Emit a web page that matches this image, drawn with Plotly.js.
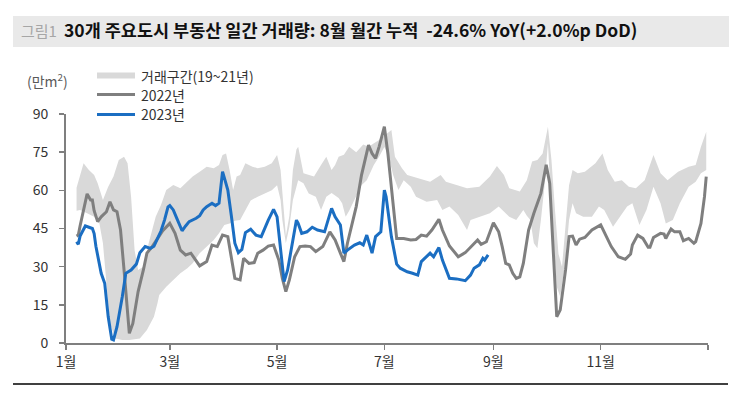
<!DOCTYPE html>
<html>
<head>
<meta charset="utf-8">
<script src="https://cdn.plot.ly/plotly-3.0.1.min.js"></script>
<style>html,body{margin:0;padding:0;background:#fff;}#chart{width:756px;height:393px;}</style>
</head>
<body>
<div id="chart"></div>
<script>
// ---- data (x = day of year, 0 = Jan 1) ----
const bandLowerDays = [6,8,12,16,19,21,23,25,28,32,36,42,46,48,50,52,53,57,61,65,69,72,76,80,84,87,90,93,96,99,102,105,109,113,117,120,122,123,125,127,129,132,135,138,142,145,148,151,155,157,159,161,164,168,171,175,178,181,183,186,189,192,196,199,205,211,214,218,223,228,230,235,241,246,252,256,260,262,264,266,268,270,272,274,276,279,281,284,286,288,290,294,299,303,306,311,315,319,322,326,330,334,338,341,345,349,354,358,361,364];
const bandLower = [52,52.3,51,49.6,47,39.2,23.5,7.7,1.8,1.2,1.2,1.8,5.1,7.7,10.3,15.6,18.9,22.1,24.8,27.4,29.4,31.3,35.3,37.9,40.5,43.1,46.4,47,48,48.3,52,56,57.5,58.8,60,62,56.2,48.3,39.2,45.7,56.2,64,62.8,58.8,57.5,52.3,57.5,59,57,54.9,49.6,52,56.2,62,64,70,73.2,77,74.5,66,60.1,64,61.4,57.5,55.5,56.2,52.3,53.6,50.3,44.4,48.3,49.6,51,53.6,49.6,48.3,52.3,50,48.3,39.2,37.2,48.3,61.4,78.5,52.3,22.1,18.2,32.6,48.3,54.9,51,49.6,49.6,53.6,52.3,45.7,49.6,53.6,54.9,46.4,52.3,61.4,54.9,47,48.3,54.9,61.4,63.4,66.7,68];
const bandUpperDays = [6,8,10,13,16,18,21,24,27,30,33,35,37,39,41,44,47,51,54,57,61,65,69,72,76,80,84,87,89,91,93,95,97,99,102,106,109,113,117,120,122,123,124,125,127,129,131,132,135,138,141,145,148,151,153,155,158,161,165,169,172,178,180,185,187,191,194,197,203,207,213,216,222,228,235,241,245,249,252,258,262,265,268,271,274,276,278,280,282,284,286,288,291,295,301,305,308,312,316,320,324,329,334,338,342,348,354,358,361,364];
const bandUpper = [61,66,70.6,68,66,62.8,56.2,61.4,65.4,71.9,73.2,70.6,57.5,36.5,28.7,30,39.2,49.6,54.2,60.1,62.1,60.8,63.4,65.4,67.3,69.3,68.7,70,73.9,74.5,68,60.1,65.4,66,70.6,69.3,68.7,69.3,70.6,73.9,68,58,50,42,50,68,76,77.1,66.7,66,65.4,70,73.2,68,70,73.2,74,77.1,75,78,77.1,79.8,81,83.7,73.2,68.7,66,65.4,64,63.4,66,63.4,62.1,60.8,61.4,65.4,69.6,66,60.8,59.5,64,71.3,71.9,74.5,85,71.9,52.3,35,30,45,62,68,66.7,67.3,70.6,74.5,68,63.4,64,61.4,60.8,64,73.9,66.7,64,67.3,69.3,70,77.1,83];
const y2022Days = [6,7,8,10,12,14,15,16,18,20,23,25,27,29,31,33,35,36,38,41,44,46,49,52,55,59,62,65,68,71,76,80,83,86,89,92,94,96,99,101,104,107,109,112,115,118,121,123,125,127,130,133,136,139,142,146,150,153,156,158,160,162,165,168,170,172,174,176,178,181,183,186,188,192,196,199,202,205,208,212,214,218,223,227,231,234,236,239,243,246,248,250,252,254,256,258,260,263,266,268,270,273,275,277,279,281,284,286,288,290,292,295,299,304,306,310,314,318,321,322,325,328,331,332,334,338,340,341,342,344,346,349,351,354,357,358,361,363,364];
const y2022 = [42,42.4,46,52.3,58.6,56.2,56.2,52,47.7,49.6,51.6,55.5,52.3,51.6,44.4,28.7,13,3.8,7.7,20.2,28.7,35.3,37.9,41.1,44.1,47,43.1,36.5,34.6,35.3,30.3,32,38.5,37.9,42.4,41.8,32.6,25.4,24.8,33.3,31.3,31.6,35.3,36.5,38.1,38.5,32.6,25.4,20.2,24.8,33.9,37.9,38.1,37.9,35.9,37.9,43.7,40.5,35.3,32,39.2,45,53.6,66,71.9,77.8,74.5,72.6,77.1,85,74.5,54.9,41.1,41.1,40.5,40.7,42.4,42,44.4,48.6,44.4,38.1,33.9,35.5,38.5,40.5,38.8,39.8,47.3,43.7,37.9,31.3,30.7,27.4,25.4,26,31.3,44.4,51,54.9,58.8,70,62.8,36.5,10.3,13,28.7,41.8,42,38.5,40.8,41.5,44.4,46.4,43.7,37.9,33.9,32.9,35,38.5,42.4,41.1,37.6,37.6,41.5,43.1,42.8,41.1,42.4,44.8,43.7,43.7,40.2,41.1,39.2,39.8,47,57.5,65.4];
const y2023Days = [6,7,8,11,13,15,16,17,20,22,24,26,27,29,32,34,37,40,42,45,48,50,52,54,56,58,59,61,63,66,68,70,74,76,78,80,83,85,87,89,90,92,94,96,98,100,102,105,108,111,115,118,120,122,124,126,129,131,132,134,137,140,143,147,151,153,156,158,160,164,167,169,171,174,176,179,181,182,185,188,190,194,197,200,202,205,207,209,212,214,218,222,227,230,232,235,237,238,240];
const y2023 = [39.8,38.8,42,46,45.5,45,43,38,27.4,23.5,10.3,1.5,1.2,6.4,18.2,27.4,28.7,31,35.5,37.9,37.2,38,41,44,48.3,53.5,54,52.3,49,44.1,46,47.7,49,50,52.3,53.6,54.9,54,55,67.3,65,60.1,50,39.2,35.5,36.8,43.4,44.7,42.4,41.8,48.3,52.5,49.6,35.3,24.1,28.7,40.5,48.3,47,43.1,43.7,45.5,44.4,43.7,52.9,49.6,46.4,35.3,36.5,38.5,39.4,38.5,42.4,35.3,41.8,43.7,60.1,57.5,41.8,31,29.4,28,27.4,26.7,32,33.9,35.3,33.9,37.5,32.6,25.4,25.2,24.5,26.7,29.4,30.7,33.3,32.6,34.6];

const tickDays = [0,59,120,181,243,304];
const tickLabels = ['1월','3월','5월','7월','9월','11월'];
const endTickDay = 365;
const yTicks = [0,15,30,45,60,75,90];
const names = ['거래구간(19~21년)','2022년','2023년'];
const titleText = '30개 주요도시 부동산 일간 거래량: 8월 월간 누적&nbsp; -24.6% YoY(+2.0%p DoD)';

// ---- helpers ----
const BASE = Date.UTC(2023,0,1);
const toDate = d => new Date(BASE + d*86400000).toISOString().slice(0,10);
const FONT = '"Noto Sans CJK KR", "Noto Sans", sans-serif';

// pixel -> paper conversion for decoration placement
const L = 66, R = 708, T = 114, B = 343;
const px = x => (x - L) / (R - L);
const py = y => (B - y) / (B - T);

const traces = [
  {x: bandLowerDays.map(toDate), y: bandLower, type:'scatter', mode:'lines',
   line:{width:0, color:'rgba(0,0,0,0)'}, hoverinfo:'skip', showlegend:false},
  {x: bandUpperDays.map(toDate), y: bandUpper, type:'scatter', mode:'lines',
   fill:'tonexty', fillcolor:'#d9d9d9', line:{width:0, color:'#d9d9d9'}, name:names[0], showlegend:false},
  {x: y2022Days.map(toDate), y: y2022, type:'scatter', mode:'lines',
   line:{color:'#7f7f7f', width:3}, name:names[1], showlegend:false},
  {x: y2023Days.map(toDate), y: y2023, type:'scatter', mode:'lines',
   line:{color:'#1b6ec2', width:3}, name:names[2], showlegend:false}
];

const shapes = [
  // title bar
  {type:'rect', xref:'paper', yref:'paper', x0:px(13), x1:px(729), y0:py(47), y1:py(16),
   fillcolor:'#e9e9e9', line:{width:0}, layer:'below'},
  // bottom rule
  {type:'line', xref:'paper', yref:'paper', x0:px(13), x1:px(728), y0:py(384), y1:py(384),
   line:{color:'#000', width:1.5}},
  // legend samples
  {type:'rect', xref:'paper', yref:'paper', x0:px(97), x1:px(135), y0:py(78.5), y1:py(72.5),
   fillcolor:'#d9d9d9', line:{width:0}},
  {type:'line', xref:'paper', yref:'paper', x0:px(97), x1:px(135), y0:py(94.5), y1:py(94.5),
   line:{color:'#7f7f7f', width:3}},
  {type:'line', xref:'paper', yref:'paper', x0:px(97), x1:px(135), y0:py(114.5), y1:py(114.5),
   line:{color:'#1b6ec2', width:3}}
];

const ann = (text, x, y, opts={}) => Object.assign({text, xref:'paper', yref:'paper', x:px(x), y:py(y),
  xanchor:'left', yanchor:'middle', showarrow:false, font:{family:FONT, size:14, color:'#333'}}, opts);

const annotations = [
  ann('그림1', 19, 31, {font:{family:FONT, size:15, color:'#a6a6a6'}}),
  ann(names[0], 139, 75.5),
  ann(names[1], 139, 94.5),
  ann(names[2], 139, 114.5),
  ann('(만m<sup>2</sup>)', 47, 80, {xanchor:'center', font:{family:FONT, size:14, color:'#595959'}})
];

const layout = {
  width:756, height:393,
  margin:{l:L, r:756-R, t:T, b:393-B},
  paper_bgcolor:'#fff', plot_bgcolor:'#fff',
  font:{family:FONT, size:14, color:'#333'},
  title:{text:'<b>'+titleText+'</b>', x:64/756, xref:'container', xanchor:'left',
         y:1-31/393, yref:'container', yanchor:'middle',
         font:{family:FONT, size:17.5, color:'#111'}},
  xaxis:{type:'date', range:[toDate(0), toDate(365)],
         tickvals:tickDays.map(toDate), ticktext:tickLabels, tickmode:'array',
         ticks:'outside', ticklen:5, tickwidth:1.5, tickcolor:'#7f7f7f',
         minor:{tickmode:'array', tickvals:[toDate(endTickDay)], ticks:'outside', ticklen:5, tickwidth:1.5, tickcolor:'#7f7f7f', showgrid:false},
         showline:true, linecolor:'#7f7f7f', linewidth:2, showgrid:false, zeroline:false,
         tickfont:{family:FONT, size:14, color:'#333'}, fixedrange:true},
  yaxis:{range:[0,90], tickvals:yTicks, tickmode:'array',
         ticks:'outside', ticklen:5, tickwidth:1.5, tickcolor:'#7f7f7f',
         showline:true, linecolor:'#7f7f7f', linewidth:2, showgrid:false, zeroline:false,
         ticklabelstandoff:8,
         tickfont:{family:FONT, size:14, color:'#333'}, fixedrange:true},
  shapes, annotations, showlegend:false
};

Plotly.newPlot('chart', traces, layout, {staticPlot:true, displayModeBar:false});
</script>
</body>
</html>
